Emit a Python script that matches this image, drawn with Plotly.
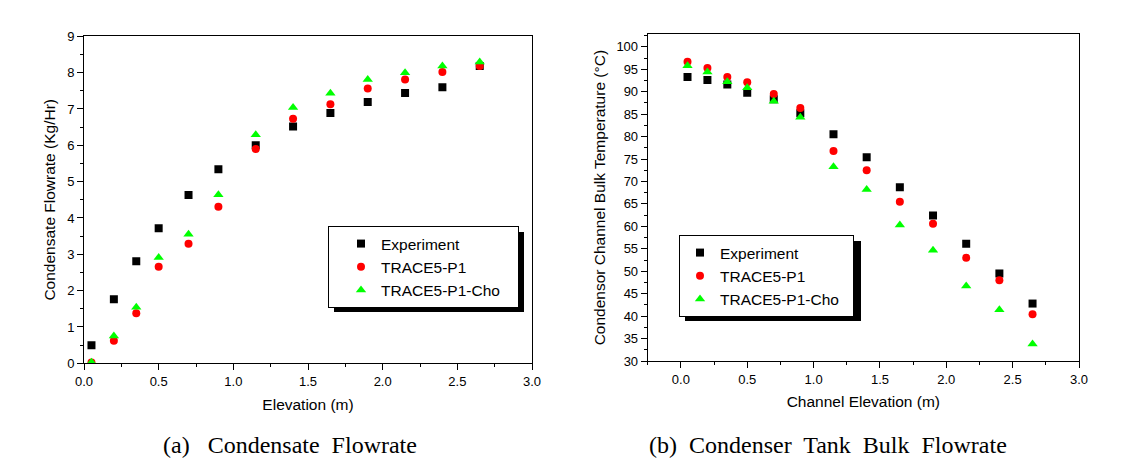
import plotly.graph_objects as go

# page has an 8px body margin; figure is placed at (8, 8)
OFF = 8
W, H = 1127, 460

# ---------------- data ----------------
elev = [0.05, 0.2, 0.35, 0.5, 0.7, 0.9, 1.15, 1.4, 1.65, 1.9, 2.15, 2.4, 2.65]

flow_exp = [0.50, 1.76, 2.81, 3.72, 4.63, 5.34, 6.00, 6.52, 6.89, 7.19, 7.44, 7.60, 8.18]
flow_p1 = [0.02, 0.62, 1.38, 2.66, 3.29, 4.31, 5.90, 6.73, 7.13, 7.56, 7.81, 8.02, 8.18]
flow_cho = [0.03, 0.75, 1.54, 2.91, 3.55, 4.64, 6.29, 7.04, 7.43, 7.81, 8.00, 8.18, 8.29]

temp_exp = [93.3, 92.6, 91.6, 89.8, 88.3, 85.2, 80.5, 75.4, 68.7, 62.4, 56.1, 49.5, 42.8]
temp_p1 = [96.7, 95.3, 93.3, 92.1, 89.5, 86.4, 76.8, 72.5, 65.5, 60.6, 53.0, 48.0, 40.4]
temp_cho = [95.8, 94.4, 92.2, 90.9, 87.9, 84.3, 73.3, 68.2, 60.3, 54.7, 46.7, 41.4, 33.8]

series_names = ["Experiment", "TRACE5-P1", "TRACE5-P1-Cho"]
series_colors = ["#000000", "#ff0000", "#00ff00"]
series_symbols = ["square", "circle", "triangle-up"]
series_sizes = [8, 8, 9]

captions = ["(a)\u00a0\u00a0 Condensate\u00a0 Flowrate",
            "(b)\u00a0 Condenser\u00a0 Tank\u00a0 Bulk\u00a0 Flowrate"]
xtitles = ["Elevation (m)", "Channel Elevation (m)"]
ytitles = ["Condensate Flowrate (Kg/Hr)", "Condensor Channel Bulk Temperature (\u00b0C)"]

SANS = "Liberation Sans, Arial, sans-serif"
SERIF = "Liberation Serif, Times New Roman, serif"

fig = go.Figure()

left_sets = [flow_exp, flow_p1, flow_cho]
right_sets = [temp_exp, temp_p1, temp_cho]
pads = ["\u00a0\u00a0\u00a0", "\u00a0\u00a0"]

for i in range(3):
    fig.add_trace(go.Scatter(
        x=elev, y=left_sets[i], mode="markers", name=series_names[i] + pads[0],
        marker=dict(symbol=series_symbols[i], color=series_colors[i], size=series_sizes[i],
                    line=dict(width=0)),
        xaxis="x", yaxis="y", legend="legend"))
for i in range(3):
    fig.add_trace(go.Scatter(
        x=elev, y=right_sets[i], mode="markers", name=series_names[i] + pads[1],
        marker=dict(symbol=series_symbols[i], color=series_colors[i], size=series_sizes[i],
                    line=dict(width=0)),
        xaxis="x2", yaxis="y2", legend="legend2"))


def px_x(p):
    return (p - OFF) / W


def px_y(p):
    return 1 - (p - OFF) / H


axis_common = dict(
    showline=True, linecolor="black", linewidth=1, mirror=True,
    ticks="outside", ticklen=6, tickwidth=1, tickcolor="black",
    showgrid=False, zeroline=False, automargin=False,
    tickfont=dict(family=SANS, size=13, color="black"),
)
minor_common = dict(ticks="outside", ticklen=3, tickwidth=1, tickcolor="black", showgrid=False)
title_font = dict(family=SANS, size=15.5, color="black")

fig.update_layout(
    width=W, height=H,
    margin=dict(l=0, r=0, t=0, b=0, autoexpand=False),
    paper_bgcolor="white", plot_bgcolor="white",
    xaxis=dict(axis_common, domain=[px_x(84), px_x(532)], range=[0, 3], tick0=0, dtick=0.5,
               tickformat=".1f", minor=dict(minor_common, dtick=0.25),
               title=dict(text=xtitles[0], font=title_font, standoff=11),
               anchor="y"),
    yaxis=dict(axis_common, domain=[px_y(363.3), px_y(36.3)], range=[0, 9], tick0=0, dtick=1,
               minor=dict(minor_common, dtick=0.5),
               title=dict(text=ytitles[0], font=title_font, standoff=7),
               anchor="x"),
    xaxis2=dict(axis_common, domain=[px_x(647.7), px_x(1079)], range=[-0.25, 3], tick0=0, dtick=0.5,
                tickformat=".1f", minor=dict(minor_common, dtick=0.25),
                title=dict(text=xtitles[1], font=title_font, standoff=10),
                anchor="y2"),
    yaxis2=dict(axis_common, domain=[px_y(361), px_y(34.3)], range=[30, 102.8], tick0=30, dtick=5,
                minor=dict(minor_common, dtick=2.5),
                title=dict(text=ytitles[1], font=title_font, standoff=6),
                anchor="x2"),
    legend=dict(x=px_x(328), y=px_y(226), xanchor="left", yanchor="top",
                bgcolor="white", bordercolor="black", borderwidth=1,
                font=dict(family=SANS, size=15.5, color="black"), indentation=12),
    legend2=dict(x=px_x(679), y=px_y(235), xanchor="left", yanchor="top",
                 bgcolor="white", bordercolor="black", borderwidth=1,
                 font=dict(family=SANS, size=15.5, color="black")),
    showlegend=True,
)

# legend drop shadows
fig.add_shape(type="rect", xref="paper", yref="paper",
              x0=px_x(334), x1=px_x(524), y0=px_y(312), y1=px_y(232),
              fillcolor="black", line=dict(width=0), layer="above")
fig.add_shape(type="rect", xref="paper", yref="paper",
              x0=px_x(685), x1=px_x(861), y0=px_y(321), y1=px_y(241),
              fillcolor="black", line=dict(width=0), layer="above")

fig.add_annotation(text=captions[0], x=px_x(290), y=px_y(445), xref="paper", yref="paper",
                   xanchor="center", yanchor="middle", showarrow=False,
                   font=dict(family=SERIF, size=24, color="black"))
fig.add_annotation(text=captions[1], x=px_x(828), y=px_y(445), xref="paper", yref="paper",
                   xanchor="center", yanchor="middle", showarrow=False,
                   font=dict(family=SERIF, size=24, color="black"))

fig.write_html("out.html")
